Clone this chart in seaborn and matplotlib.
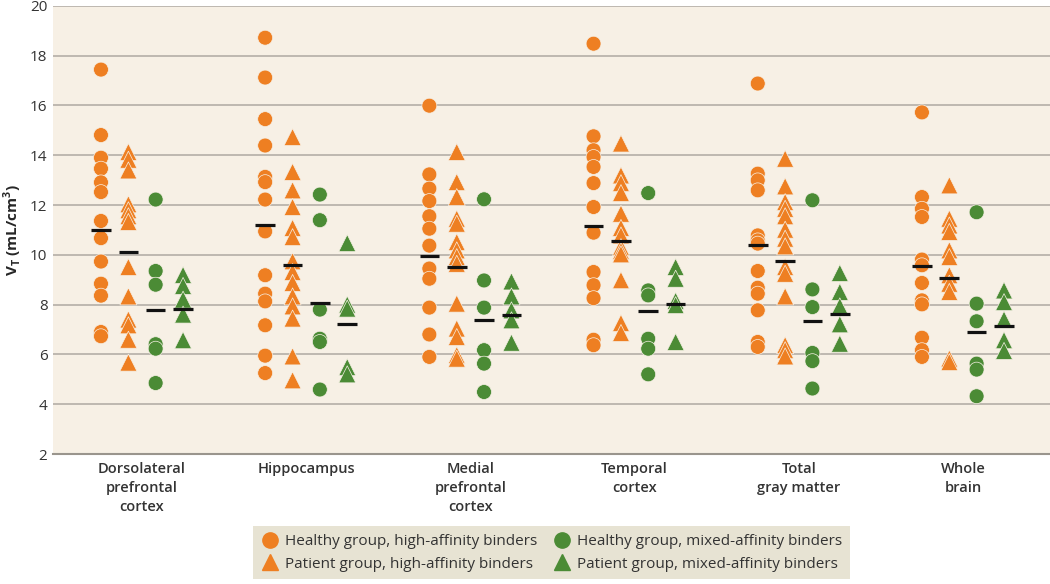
import pandas as pd
import matplotlib.pyplot as plt
import seaborn as sns
from matplotlib.lines import Line2D

ORANGE = "#EE7F22"
GREEN = "#4B8B35"
BG = "#F7F0E5"

regions = ["Dorsolateral\nprefrontal\ncortex", "Hippocampus", "Medial\nprefrontal\ncortex",
           "Temporal\ncortex", "Total\ngray matter", "Whole\nbrain"]

healthy_hab = [
    [17.44, 14.81, 13.90, 13.46, 12.91, 12.52, 11.36, 10.67, 9.73, 8.84, 8.36, 6.90, 6.73],
    [18.72, 17.12, 15.45, 14.39, 13.13, 12.92, 12.22, 10.94, 9.18, 8.44, 8.13, 7.17, 5.95, 5.25],
    [15.99, 13.23, 12.66, 12.16, 11.55, 11.05, 10.37, 9.45, 9.04, 7.88, 6.80, 5.90],
    [18.48, 14.76, 14.20, 13.93, 13.53, 12.88, 11.92, 10.89, 9.31, 8.78, 8.26, 6.59, 6.37],
    [16.88, 13.26, 12.99, 12.59, 10.78, 10.58, 10.45, 9.35, 8.68, 8.44, 7.77, 6.50, 6.30],
    [15.72, 12.32, 11.85, 11.52, 9.81, 9.58, 8.87, 8.17, 8.01, 6.67, 6.17, 5.90],
]
patient_hab = [
    [14.13, 13.82, 13.39, 12.03, 11.79, 11.55, 11.32, 9.51, 8.33, 7.40, 7.17, 6.59, 5.67],
    [14.73, 13.33, 12.59, 11.92, 11.08, 10.71, 9.74, 9.31, 8.87, 8.33, 7.93, 7.44, 5.92, 4.96],
    [14.13, 12.92, 12.32, 11.45, 11.25, 10.51, 10.18, 9.91, 9.64, 8.04, 7.04, 6.70, 5.97, 5.83],
    [14.47, 13.19, 12.88, 12.48, 11.65, 11.08, 10.78, 10.31, 10.15, 10.02, 8.98, 7.26, 6.86],
    [13.86, 12.75, 12.12, 11.85, 11.55, 11.01, 10.65, 10.34, 9.51, 9.24, 8.33, 6.37, 6.17, 5.92],
    [12.79, 11.45, 11.18, 10.92, 10.18, 9.91, 9.18, 8.84, 8.51, 5.83, 5.69],
]
healthy_mab = [
    [12.22, 9.35, 8.80, 6.41, 6.23, 4.85],
    [12.42, 11.39, 7.80, 6.63, 6.50, 4.59],
    [12.23, 8.97, 7.88, 6.17, 5.63, 4.49],
    [12.48, 8.57, 8.37, 6.63, 6.23, 5.20],
    [12.19, 8.61, 7.90, 6.06, 5.73, 4.63],
    [11.71, 8.04, 7.33, 5.63, 5.39, 4.32],
]
patient_mab = [
    [9.19, 8.75, 8.20, 7.60, 6.57],
    [10.47, 8.00, 7.84, 5.49, 5.20],
    [8.93, 8.33, 7.77, 7.37, 6.47],
    [9.51, 9.04, 8.15, 7.98, 6.50],
    [9.27, 8.51, 7.93, 7.21, 6.43],
    [8.57, 8.10, 7.40, 6.57, 6.14],
]

# group means as drawn in the figure (black dashes)
mean_healthy_hab = [10.98, 11.18, 9.97, 11.14, 10.38, 9.55]
mean_patient_hab = [10.11, 9.58, 9.51, 10.55, 9.75, 9.08]
mean_healthy_mab = [7.80, 8.05, 7.40, 7.74, 7.33, 6.90]
mean_patient_mab = [7.84, 7.21, 7.60, 8.04, 7.64, 7.14]

groups = ["Healthy group, high-affinity binders", "Patient group, high-affinity binders",
          "Healthy group, mixed-affinity binders", "Patient group, mixed-affinity binders"]
values = [healthy_hab, patient_hab, healthy_mab, patient_mab]
means = [mean_healthy_hab, mean_patient_hab, mean_healthy_mab, mean_patient_mab]
offsets = [-0.25, -0.083, 0.083, 0.25]
colors = [ORANGE, ORANGE, GREEN, GREEN]
markers = ["o", "^", "o", "^"]
msizes = [115, 150, 115, 150]

rows = []
for g, name in enumerate(groups):
    for i, vals in enumerate(values[g]):
        for v in vals:
            rows.append({"x": i + offsets[g], "value": v, "group": name})
df = pd.DataFrame(rows)

sns.set_style("white")
plt.rcParams["font.family"] = ["Open Sans", "DejaVu Sans"]

fig = plt.figure(figsize=(10.5, 5.84), dpi=100)
ax = fig.add_axes([0.0505, 0.2226, 0.9495, 0.7674])
ax.set_facecolor(BG)

for y in range(4, 21, 2):
    ax.axhline(y, color="#B9B4AC", lw=1.3, zorder=0)

sns.scatterplot(data=df, x="x", y="value", hue="group", style="group", size="group",
                palette=dict(zip(groups, colors)), markers=dict(zip(groups, markers)),
                sizes=dict(zip(groups, msizes)), edgecolor=BG, linewidth=0.5,
                legend=False, ax=ax, zorder=3)

for g in range(4):
    for i, m in enumerate(means[g]):
        ax.hlines(m, i + offsets[g] - 0.06, i + offsets[g] + 0.06, color="#111111", lw=2.3, zorder=4)

ax.set_xlim(-0.542, 5.53)
ax.set_ylim(2, 20)
ax.set_yticks(range(2, 21, 2))
ax.set_xticks(range(6))
ax.set_xticklabels(regions, fontsize=10.5, fontweight="semibold", color="#222222", linespacing=1.45)
ax.tick_params(axis="both", length=0, colors="#333333")
ax.tick_params(axis="y", labelsize=11, pad=4)
ax.tick_params(axis="x", pad=6)
for s in ["top", "right", "left"]:
    ax.spines[s].set_visible(False)
ax.spines["bottom"].set_color("#9A958D")
ax.spines["bottom"].set_linewidth(1.5)
ax.set_xlabel("")
ax.set_ylabel(r"V$_\mathregular{T}$ (mL/cm$^\mathregular{3}$)", fontsize=11, fontweight="bold", labelpad=4)

handles = [Line2D([], [], marker=markers[g], color=colors[g], linestyle="none",
                  markersize=11 if markers[g] == "o" else 12) for g in range(4)]
leg = fig.legend(handles, groups, loc="lower center", bbox_to_anchor=(0.525, -0.005), ncol=2,
                 frameon=True, fontsize=11, handletextpad=0.3, columnspacing=1.0,
                 borderpad=0.5, labelspacing=0.5, handlelength=1.3)
leg.get_frame().set_facecolor("#E2DDC9")
leg.get_frame().set_edgecolor("none")
leg.get_frame().set_boxstyle("square", pad=0)
for t in leg.get_texts():
    t.set_color("#333333")

plt.savefig("out.png", dpi=100, facecolor="white")
plt.close()
